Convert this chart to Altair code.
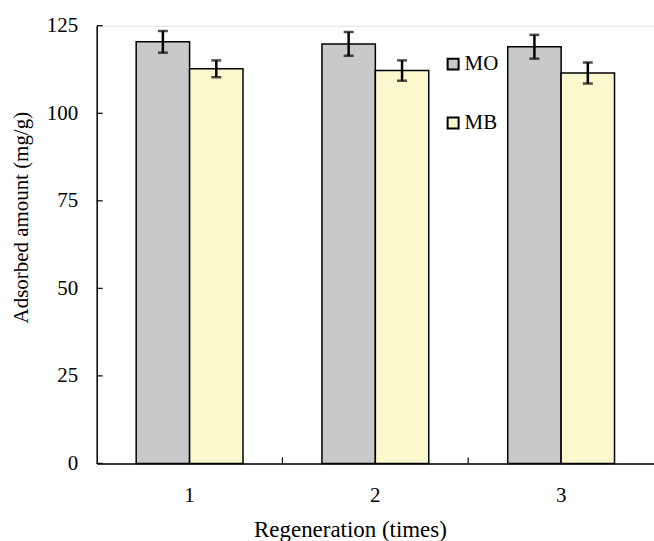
import altair as alt
import pandas as pd

regen = ["1", "2", "3"]
series = ["MO", "MB"]
mo = [120.4, 119.8, 119.0]
mb = [112.7, 112.2, 111.5]
mo_err = [3.1, 3.4, 3.4]
mb_err = [2.4, 2.9, 3.0]
y_ticks = [0, 25, 50, 75, 100, 125]
x_bounds = ["2", "3"]
colors = ["#C8C9CB", "#FBF8CE"]

rows = []
for i, r in enumerate(regen):
    rows.append({"regen": r, "series": "MO", "value": mo[i], "lo": mo[i] - mo_err[i], "hi": mo[i] + mo_err[i]})
    rows.append({"regen": r, "series": "MB", "value": mb[i], "lo": mb[i] - mb_err[i], "hi": mb[i] + mb_err[i]})
df = pd.DataFrame(rows)

FONT = "'Liberation Serif', 'Times New Roman', serif"
W, H = 559, 439

xscale = alt.Scale(paddingInner=0.425, paddingOuter=0.2125)
x = alt.X("regen:N", scale=xscale,
          axis=alt.Axis(title="Regeneration (times)", labelAngle=0, ticks=False,
                        domainColor="black", domainWidth=1.5, labelFontSize=21,
                        labelPadding=21, labelColor="black", labelFont=FONT,
                        titleFont=FONT, titleFontSize=23, titleFontWeight="normal",
                        titleColor="black", titleX=254, titleY=73,
                        titleBaseline="alphabetic", titleAlign="center", zindex=2))
xo = alt.XOffset("series:N", sort=series, scale=alt.Scale(paddingInner=0, paddingOuter=0))
yscale = alt.Scale(domain=[0, 125], nice=False, zero=True)
y = alt.Y("value:Q", scale=yscale,
          axis=alt.Axis(title="Adsorbed amount (mg/g)", values=y_ticks, ticks=False,
                        grid=False, domainColor="black", domainWidth=1.5,
                        labelFontSize=21, labelPadding=19, labelColor="black", labelFont=FONT,
                        titleFont=FONT, titleFontSize=21, titleFontWeight="normal",
                        titleColor="black", titleAngle=270, titleX=-69, titleY=192,
                        titleBaseline="alphabetic", titleAlign="center", zindex=2))
fill = alt.Fill("series:N", sort=series,
                scale=alt.Scale(domain=series, range=colors),
                legend=alt.Legend(title=None, orient="none", legendX=347, legendY=28,
                                  padding=0, symbolType="square", symbolSize=121,
                                  symbolStrokeColor="black", symbolStrokeWidth=2,
                                  symbolOffset=0, labelOffset=1, labelFontSize=21,
                                  labelFont=FONT, labelColor="black", rowPadding=37,
                                  direction="vertical"))

base = alt.Chart(df)
bars = base.mark_bar(stroke="black", strokeWidth=1.5).encode(x=x, xOffset=xo, y=y, fill=fill)
err = base.mark_rule(color="black", strokeWidth=2.5).encode(
    x=x, xOffset=xo, y=alt.Y("lo:Q", scale=yscale), y2="hi:Q")
cap_lo = base.mark_tick(color="black", thickness=2.5, size=10).encode(
    x=x, xOffset=xo, y=alt.Y("lo:Q", scale=yscale))
cap_hi = base.mark_tick(color="black", thickness=2.5, size=10).encode(
    x=x, xOffset=xo, y=alt.Y("hi:Q", scale=yscale))

yt = alt.Chart(pd.DataFrame({"t": y_ticks})).mark_rule(color="black", strokeWidth=1.2).encode(
    y=alt.Y("t:Q", scale=yscale), x=alt.value(0), x2=alt.value(6))
xt = alt.Chart(pd.DataFrame({"regen": x_bounds})).mark_rule(
    color="black", strokeWidth=1.2, xOffset=-93.2).encode(
    x=alt.X("regen:N", scale=xscale), y=alt.value(H), y2=alt.value(H - 6))

chart = alt.layer(bars, err, cap_lo, cap_hi, yt, xt).properties(
    width=W, height=H,
    autosize=alt.AutoSizeParams(type="none"),
    padding={"left": 97, "top": 25, "right": 0, "bottom": 77},
).configure_view(stroke="#7f7f7f", strokeWidth=1.5).configure(
    font=FONT, background="white")

chart.save("out.html", embed_options={"renderer": "svg", "actions": False})
